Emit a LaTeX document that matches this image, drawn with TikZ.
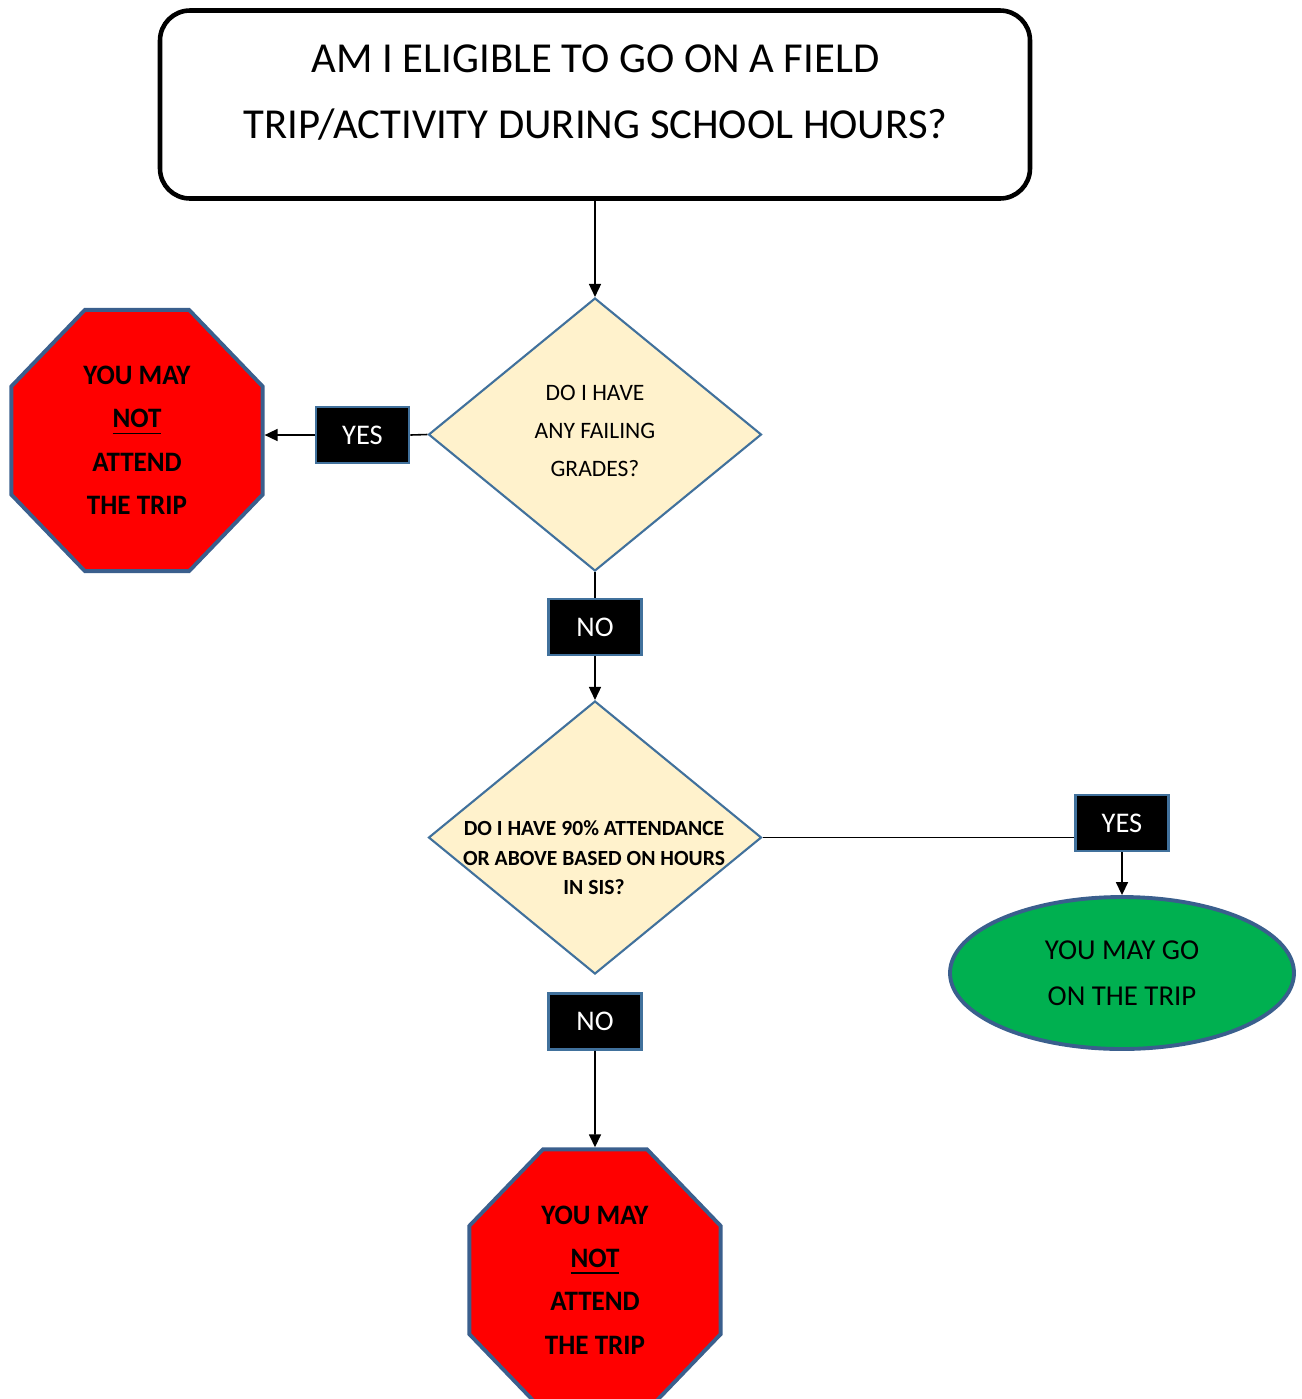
\documentclass[tikz,border=0pt]{standalone}
\usepackage{fontspec}
\setmainfont{Carlito}
\usepackage{tikz}
\usetikzlibrary{shapes.geometric, arrows.meta, positioning, calc}

\definecolor{cream}{HTML}{FFF2CC}
\definecolor{edgeblue}{HTML}{41719C}
\definecolor{darkedge}{HTML}{3A5F8D}
\definecolor{gogreen}{HTML}{00B050}

\tikzset{
	question/.style={diamond, draw=edgeblue, fill=cream, line width=0.6pt, inner sep=0pt, minimum width=3.33cm, minimum height=2.73cm},
	answer/.style={rectangle, draw=edgeblue, fill=black, text=white, line width=0.8pt, minimum width=0.93cm, minimum height=0.56cm, font=\fontsize{8.1}{9}\selectfont},
	stopsign/.style={regular polygon, regular polygon sides=8, draw=darkedge, fill=red, line width=1.1pt, minimum size=2.72cm, yscale=1.04, align=center, inner sep=0pt, font=\fontsize{7.7}{11.9}\selectfont\bfseries},
	link/.style={line width=0.45pt},
	arrow/.style={line width=0.45pt, -{Triangle[length=0.13cm,width=0.12cm]}}
}

\begin{document}
\begin{tikzpicture}
		\useasboundingbox (0,0) rectangle (13.02,-13.99);

		% Title
		\node[draw, line width=1.3pt, rounded corners=0.3cm, minimum width=8.7cm, minimum height=1.88cm] (title) at (5.95,-1.045) {};
		\node[align=center, font=\fontsize{12.15}{18.8}\selectfont] (titletxt) at (5.955,-0.93) {AM I ELIGIBLE TO GO ON A FIELD\\TRIP/ACTIVITY DURING SCHOOL HOURS?};

		% Questions
		\node[question] (q1) at (5.95,-4.345) {};
		\node[align=center, font=\fontsize{6.7}{10.8}\selectfont] (q1txt) at (5.95,-4.31) {DO I HAVE\\ANY FAILING\\GRADES?};
		\node[question] (q2) at (5.95,-8.375) {};
		\node[align=center, font=\fontsize{6.15}{8.4}\selectfont\bfseries] (q2txt) at (5.94,-8.58) {DO I HAVE 90\% ATTENDANCE\\OR ABOVE BASED ON HOURS\\IN SIS?};

		% Answers
		\node[answer] (yes1) at (3.625,-4.35) {YES};
		\node[answer] (no1) at (5.95,-6.27) {NO};
		\node[answer] (yes2) at (11.22,-8.23) {YES};
		\node[answer] (no2) at (5.95,-10.215) {NO};

		% Outcomes
		\node[stopsign] (stop1) at (1.37,-4.405) {YOU MAY\\\underline{NOT}\\ATTEND\\THE TRIP};
		\node[stopsign] (stop2) at (5.95,-12.8) {YOU MAY\\\underline{NOT}\\ATTEND\\THE TRIP};
		\node[ellipse, draw=darkedge, fill=gogreen, line width=1.1pt, minimum width=3.44cm, minimum height=1.52cm, align=center, font=\fontsize{8.2}{13.1}\selectfont] (go) at (11.22,-9.73) {YOU MAY GO\\ON THE TRIP};

		% Connectors
		\draw[arrow] (title) -- (q1);
		\draw[link] (q1.west) -- (yes1.east);
		\draw[arrow] (yes1.west) -- (yes1.west -| stop1.east);
		\draw[link] (q1.south) -- (no1.north);
		\draw[arrow] (no1.south) -- (q2.north);
		\draw[link] (q2.east) -- (yes2.west |- q2.east);
		\draw[arrow] (yes2.south) -- (go.north);
		\draw[arrow] (no2.south) -- (stop2.north);
	\end{tikzpicture}
\end{document}
